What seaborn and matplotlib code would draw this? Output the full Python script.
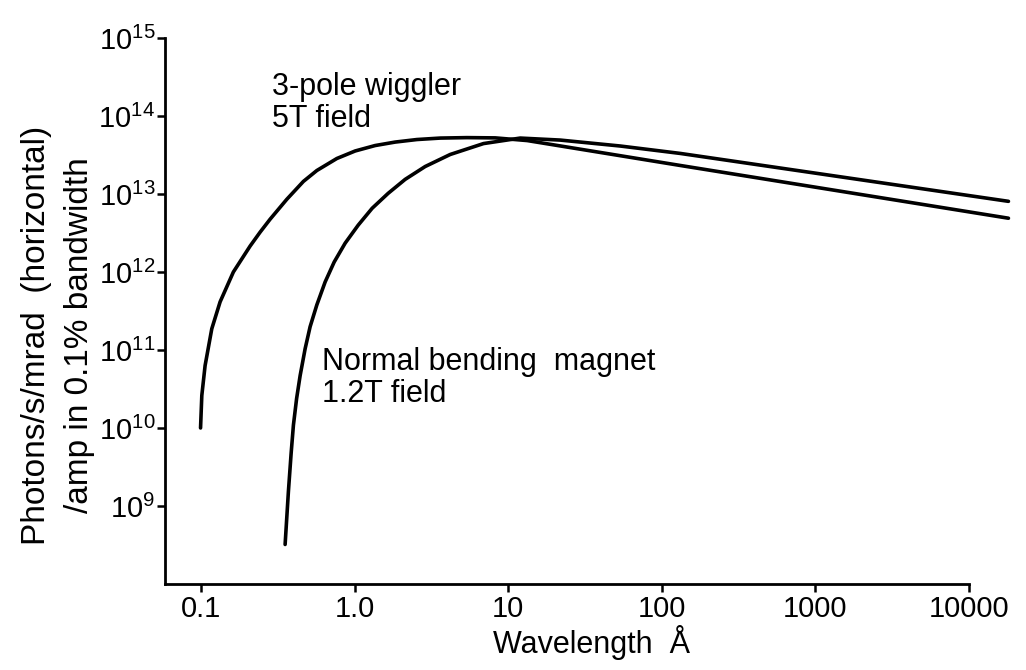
import matplotlib
matplotlib.use("Agg")
import matplotlib.pyplot as plt
import pandas as pd
import seaborn as sns

# ============================================================
# DATA
# ============================================================

# 3-pole wiggler, 5T field
wiggler_wavelength = [0.0992, 0.1011, 0.1062, 0.1174, 0.1330, 0.1623, 0.2086,
                      0.2423, 0.2815, 0.3616, 0.4638, 0.5673, 0.7655, 1.008,
                      1.360, 1.836, 2.542, 3.606, 5.382, 8.228, 13.30, 132.0,
                      18080]
wiggler_flux = [1.0e10, 2.61e10, 6.31e10, 1.87e11, 4.14e11, 1.0e12, 2.15e12,
                3.24e12, 4.75e12, 8.55e12, 1.45e13, 2.0e13, 2.85e13, 3.56e13,
                4.18e13, 4.63e13, 4.99e13, 5.21e13, 5.28e13, 5.24e13, 4.84e13,
                2.32e13, 4.89e12]

# normal bending magnet, 1.2T field
bending_wavelength = [0.3525, 0.3704, 0.3858, 0.3993, 0.4189, 0.4416, 0.4760,
                      0.5129, 0.5673, 0.6424, 0.7354, 0.8670, 1.054, 1.300,
                      1.653, 2.133, 2.879, 4.190, 6.904, 11.97, 21.82, 53.7,
                      132.0, 18080]
bending_flux = [3.21e8, 1.54e9, 4.74e9, 1.09e10, 2.39e10, 4.70e10, 1.04e11,
                1.99e11, 3.79e11, 7.45e11, 1.34e12, 2.34e12, 3.98e12, 6.56e12,
                1.02e13, 1.54e13, 2.25e13, 3.21e13, 4.43e13, 5.21e13, 4.91e13,
                4.12e13, 3.31e13, 8.05e12]

x_ticks = [0.1, 1, 10, 100, 1000, 10000]
x_tick_labels = ["0.1", "1.0", "10", "100", "1000", "10000"]
y_exponents = [9, 10, 11, 12, 13, 14, 15]

df = pd.concat([
    pd.DataFrame({"wavelength": wiggler_wavelength, "flux": wiggler_flux,
                  "source": "wiggler"}),
    pd.DataFrame({"wavelength": bending_wavelength, "flux": bending_flux,
                  "source": "bending"}),
])

# ============================================================
# STYLE
# ============================================================

sns.set_style("ticks")
plt.rcParams["font.family"] = ["Liberation Sans", "DejaVu Sans"]
plt.rcParams["mathtext.default"] = "regular"
plt.rcParams["axes.linewidth"] = 2.0
plt.rcParams["text.color"] = "black"
plt.rcParams["axes.labelcolor"] = "black"
plt.rcParams["axes.edgecolor"] = "black"
plt.rcParams["xtick.color"] = "black"
plt.rcParams["ytick.color"] = "black"

fig = plt.figure(figsize=(10.26, 6.70), dpi=100)
ax = fig.add_axes([0.1608, 0.1284, 0.7836, 0.8149])
ax.set_xscale("log")
ax.set_yscale("log")

sns.lineplot(
    data=df, x="wavelength", y="flux", hue="source",
    palette={"wiggler": "black", "bending": "black"},
    estimator=None, sort=False, legend=False, linewidth=2.6, ax=ax
)
for line in ax.lines:
    line.set_clip_on(False)
    line.set_solid_capstyle("round")
    line.set_solid_joinstyle("round")

ax.set_xlim(0.0582, 10000)
ax.set_ylim(1e8, 1e15)

ax.set_xticks(x_ticks)
ax.set_xticklabels(x_tick_labels)
ax.set_yticks([10.0 ** e for e in y_exponents])
ax.set_yticklabels([r"$10^{%d}$" % e for e in y_exponents])
ax.minorticks_off()
ax.tick_params(axis="both", direction="out", length=6, width=1.8,
               labelsize=21, pad=2, colors="black")
ax.tick_params(axis="y", labelsize=21, pad=1)

sns.despine(ax=ax)

ax.set_xlabel("Wavelength  Å", fontsize=22)
ax.xaxis.set_label_coords(0.53, -0.075)
ax.set_ylabel("Photons/s/mrad  (horizontal)\n/amp in 0.1% bandwidth",
              fontsize=24, linespacing=1.5)
ax.yaxis.set_label_coords(-0.087, 0.456)

ax.text(0.29, 3.7e14, "3-pole wiggler\n5T field", fontsize=22,
        ha="left", va="top", linespacing=1.1)
ax.text(0.614, 1.1e11, "Normal bending  magnet\n1.2T field", fontsize=22,
        ha="left", va="top", linespacing=1.1)

fig.savefig("out.png", dpi=100, facecolor="white")
